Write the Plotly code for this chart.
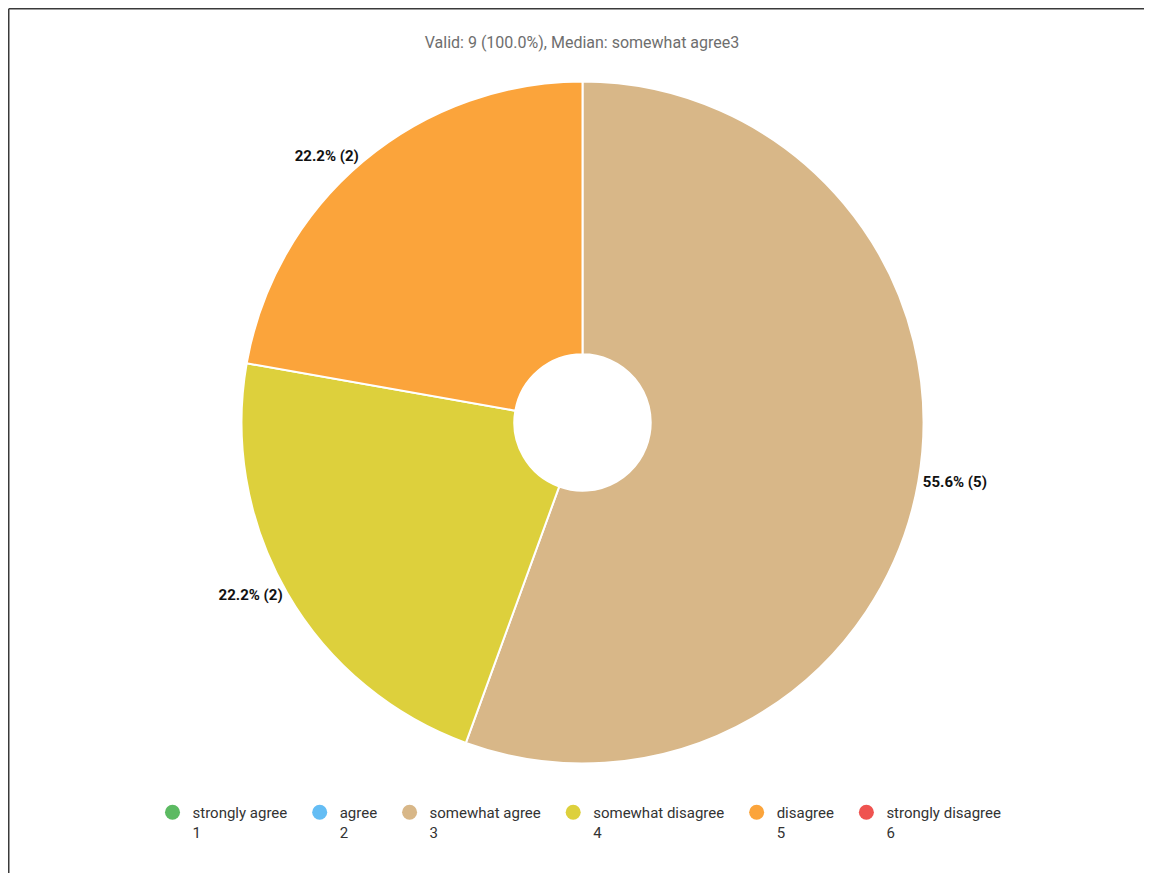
import plotly.graph_objects as go

categories = ["strongly agree", "agree", "somewhat agree", "somewhat disagree", "disagree", "strongly disagree"]
codes = ["1", "2", "3", "4", "5", "6"]
counts = [0, 0, 5, 2, 2, 0]
colors = ["#5CBA62", "#64BDF4", "#D8B788", "#DDD03C", "#FBA43B", "#EF5350"]
title_text = "Valid: 9 (100.0%), Median: somewhat agree3"

W, H = 1152, 873

# pie slices: only non-zero categories are drawn
pie_labels = [c for c, v in zip(categories, counts) if v > 0]
pie_values = [v for v in counts if v > 0]
pie_colors = [col for col, v in zip(colors, counts) if v > 0]

cx, cy, R = 574.5, 414.5, 341

fig = go.Figure()
fig.add_trace(go.Pie(
    labels=pie_labels,
    values=pie_values,
    marker=dict(colors=pie_colors, line=dict(color="white", width=2)),
    hole=0.2,
    sort=False,
    direction="clockwise",
    rotation=0,
    textposition="outside",
    texttemplate="<b>%{percent:.1%} (%{value})</b>",
    textfont=dict(family="Roboto", size=15, color="#111111"),
    showlegend=False,
    domain=dict(x=[(cx - R) / W, (cx + R) / W], y=[1 - (cy + R) / H, 1 - (cy - R) / H]),
    hoverinfo="label+value+percent",
))

# legend entries with circle markers
for cat, code, col in zip(categories, codes, colors):
    fig.add_trace(go.Scatter(
        x=[None], y=[None], mode="markers",
        marker=dict(symbol="circle", size=15, color=col),
        name=f"{cat}&nbsp;&nbsp;<br>{code}",
        showlegend=True,
    ))

fig.update_layout(
    width=W, height=H,
    margin=dict(l=0, r=0, t=0, b=0),
    paper_bgcolor="white",
    plot_bgcolor="white",
    font=dict(family="Roboto", size=15, color="#333333"),
    title=dict(text=title_text, x=574 / W, xanchor="center", y=1 - 34 / H, yanchor="middle",
               yref="container", font=dict(family="Roboto", size=16, color="#6E6E6E")),
    xaxis=dict(visible=False),
    yaxis=dict(visible=False),
    legend=dict(orientation="h", x=575 / W, xanchor="center", y=1 - 788 / H, yanchor="top",
                valign="top", font=dict(family="Roboto", size=15, color="#333333"),
                itemclick=False),
    shapes=[
        dict(type="line", xref="paper", yref="paper", x0=0.75 / W, x1=0.75 / W, y0=0, y1=1 - 0.75 / H,
             line=dict(color="#3A3A3A", width=1.5)),
        dict(type="line", xref="paper", yref="paper", x0=0.75 / W, x1=1, y0=1 - 0.75 / H, y1=1 - 0.75 / H,
             line=dict(color="#3A3A3A", width=1.5)),
    ],
)

fig.write_html("out.html")
